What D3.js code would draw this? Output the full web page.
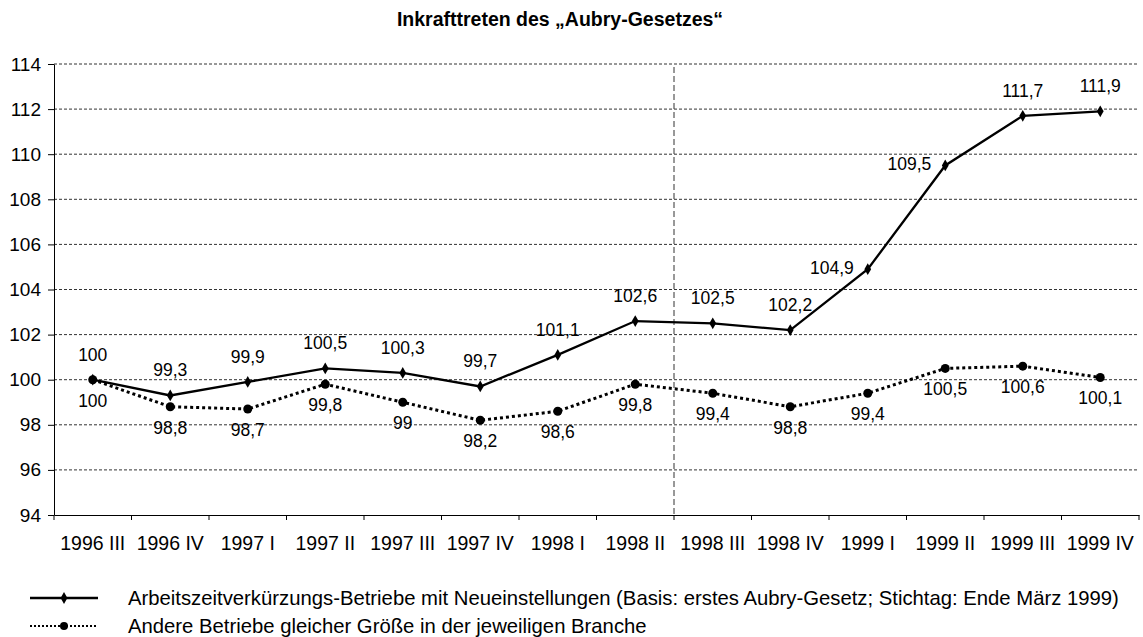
<!DOCTYPE html>
<html>
<head>
<meta charset="utf-8">
<script src="https://cdn.jsdelivr.net/npm/d3@7"></script>
<style>
  html, body { margin: 0; padding: 0; background: #fff; }
  svg { display: block; font-family: "Liberation Sans", Arial, sans-serif; }
</style>
</head>
<body>
<svg id="chart" width="1143" height="637"></svg>
<script>
const title = "Inkrafttreten des \u201EAubry-Gesetzes\u201C";
const categories = ["1996 III","1996 IV","1997 I","1997 II","1997 III","1997 IV","1998 I","1998 II","1998 III","1998 IV","1999 I","1999 II","1999 III","1999 IV"];
const seriesA = [100, 99.3, 99.9, 100.5, 100.3, 99.7, 101.1, 102.6, 102.5, 102.2, 104.9, 109.5, 111.7, 111.9];
const seriesB = [100, 98.8, 98.7, 99.8, 99, 98.2, 98.6, 99.8, 99.4, 98.8, 99.4, 100.5, 100.6, 100.1];
const yTicks = [94, 96, 98, 100, 102, 104, 106, 108, 110, 112, 114];
const legendLabels = [
  "Arbeitszeitverk\u00FCrzungs-Betriebe mit Neueinstellungen (Basis: erstes Aubry-Gesetz; Stichtag: Ende M\u00E4rz 1999)",
  "Andere Betriebe gleicher Gr\u00F6\u00DFe in der jeweiligen Branche"
];
const markerLine = "1998 III"; // category where the law takes effect

const svg = d3.select("#chart");
const pLeft = 54, pRight = 1139, pTop = 64, pBottom = 515;

const x = d3.scaleBand().domain(categories).range([pLeft, pRight]).padding(0);
const y = d3.scaleLinear().domain([94, 114]).range([pBottom, pTop]);
const cx = c => x(c) + x.bandwidth() / 2;
const fmt = v => String(v).replace(".", ",");

// title
svg.append("text").attr("x", 560).attr("y", 26).attr("text-anchor", "middle")
  .attr("font-size", 19.5).attr("font-weight", "bold").text(title);

// gridlines
svg.append("g").selectAll("line").data(yTicks.filter(t => t > 94)).join("line")
  .attr("x1", pLeft).attr("x2", pRight)
  .attr("y1", d => y(d)).attr("y2", d => y(d))
  .attr("stroke", "#333").attr("stroke-width", 1).attr("stroke-dasharray", "3,2");

// vertical dashed marker line
svg.append("line")
  .attr("x1", x(markerLine)).attr("x2", x(markerLine))
  .attr("y1", y(114) + 3).attr("y2", pBottom)
  .attr("stroke", "#333").attr("stroke-width", 1).attr("stroke-dasharray", "6,3");

// y axis
const yAxis = svg.append("g").attr("transform", `translate(${pLeft},0)`)
  .call(d3.axisLeft(y).tickValues(yTicks).tickSize(6).tickSizeOuter(0).tickPadding(7).tickFormat(d3.format("d")));
yAxis.select(".domain").attr("stroke", "#000");
yAxis.selectAll(".tick line").attr("stroke", "#000");
yAxis.selectAll(".tick text").attr("font-size", 19).attr("fill", "#000")
  .attr("font-family", "Liberation Sans, Arial, sans-serif");

// x axis (labels centered, ticks at band boundaries)
const xAxis = svg.append("g").attr("transform", `translate(0,${pBottom})`)
  .call(d3.axisBottom(x).tickSize(0).tickSizeOuter(0).tickPadding(21));
xAxis.select(".domain").attr("stroke", "#000");
xAxis.selectAll(".tick text").attr("font-size", 19.5).attr("fill", "#000")
  .attr("font-family", "Liberation Sans, Arial, sans-serif");
const bounds = categories.map(c => x(c)).concat([pRight]);
svg.append("g").selectAll("line").data(bounds).join("line")
  .attr("x1", d => d).attr("x2", d => d)
  .attr("y1", pBottom).attr("y2", pBottom + 5)
  .attr("stroke", "#000").attr("stroke-width", 1);

// lines
const lineGen = d3.line().x((d, i) => cx(categories[i])).y(d => y(d));
svg.append("path").datum(seriesB).attr("d", lineGen)
  .attr("fill", "none").attr("stroke", "#000").attr("stroke-width", 3)
  .attr("stroke-dasharray", "3,3");
svg.append("path").datum(seriesA).attr("d", lineGen)
  .attr("fill", "none").attr("stroke", "#000").attr("stroke-width", 2.3);

// markers
svg.append("g").selectAll("circle").data(seriesB).join("circle")
  .attr("cx", (d, i) => cx(categories[i])).attr("cy", d => y(d)).attr("r", 4.5).attr("fill", "#000");
const diamond = d3.symbol().type(d3.symbolDiamond).size(40);
svg.append("g").selectAll("path").data(seriesA).join("path")
  .attr("d", diamond)
  .attr("transform", (d, i) => `translate(${cx(categories[i])},${y(d)})`).attr("fill", "#000");

// data labels series A: above, or left when the line is steep on both sides
const steep = (arr, i) => i > 0 && i < arr.length - 1 &&
  Math.min(Math.abs(arr[i] - arr[i - 1]), Math.abs(arr[i + 1] - arr[i])) > 2;
svg.append("g").selectAll("text").data(seriesA).join("text")
  .attr("x", (d, i) => steep(seriesA, i) ? cx(categories[i]) - 14 : cx(categories[i]))
  .attr("y", (d, i) => steep(seriesA, i) ? y(d) + 5 : y(d) - 19)
  .attr("text-anchor", (d, i) => steep(seriesA, i) ? "end" : "middle")
  .attr("font-size", 17.5).text(d => fmt(d));

// data labels series B: below
svg.append("g").selectAll("text").data(seriesB).join("text")
  .attr("x", (d, i) => cx(categories[i]))
  .attr("y", d => y(d) + 27)
  .attr("text-anchor", "middle")
  .attr("font-size", 17.5).text(d => fmt(d));

// legend
const legendY = [598, 626];
const lg = svg.append("g");
lg.append("line").attr("x1", 30).attr("x2", 98).attr("y1", legendY[0]).attr("y2", legendY[0])
  .attr("stroke", "#000").attr("stroke-width", 2.3);
lg.append("path").attr("d", diamond).attr("transform", `translate(64,${legendY[0]})`);
lg.append("line").attr("x1", 30).attr("x2", 98).attr("y1", legendY[1]).attr("y2", legendY[1])
  .attr("stroke", "#000").attr("stroke-width", 2).attr("stroke-dasharray", "2,2");
lg.append("circle").attr("cx", 64).attr("cy", legendY[1]).attr("r", 4);
lg.selectAll("text").data(legendLabels).join("text")
  .attr("x", 128).attr("y", (d, i) => legendY[i] + 7)
  .attr("font-size", 20.3).text(d => d);
</script>
</body>
</html>
